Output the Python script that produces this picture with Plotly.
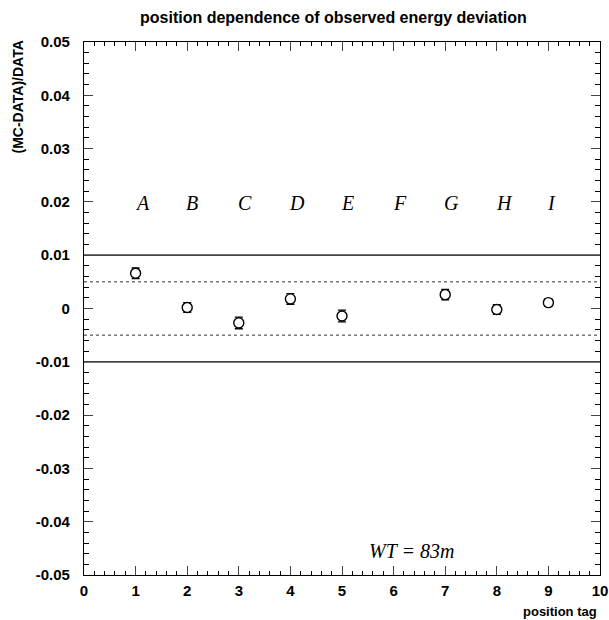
import plotly.graph_objects as go

positions = [1, 2, 3, 4, 5, 7, 8, 9]
deviation = [0.0066, 0.0002, -0.0027, 0.0018, -0.0014, 0.0026, -0.0002, 0.0011]
errors = [0.0010, 0.0009, 0.0011, 0.0010, 0.0011, 0.0010, 0.0009, 0.0007]
tag_x = [1, 2, 3, 4, 5, 6, 7, 8, 9]
tag_labels = ["A", "B", "C", "D", "E", "F", "G", "H", "I"]
x_ticks = list(range(0, 11))
x_tick_text = [str(v) for v in x_ticks]
y_ticks = [0.05, 0.04, 0.03, 0.02, 0.01, 0, -0.01, -0.02, -0.03, -0.04, -0.05]
y_tick_text = ["0.05", "0.04", "0.03", "0.02", "0.01", "0", "-0.01", "-0.02", "-0.03", "-0.04", "-0.05"]
solid_levels = [0.01, -0.01]
dashed_levels = [0.005, -0.005]

fig = go.Figure()

for lv in solid_levels:
    fig.add_trace(go.Scatter(x=[0, 10], y=[lv, lv], mode="lines",
                             line=dict(color="#444444", width=1.8), showlegend=False, hoverinfo="skip"))
for lv in dashed_levels:
    fig.add_trace(go.Scatter(x=[0, 10], y=[lv, lv], mode="lines",
                             line=dict(color="#333333", width=1, dash="3px,3px"), showlegend=False, hoverinfo="skip"))

fig.add_trace(go.Scatter(
    x=positions, y=deviation, mode="markers",
    error_y=dict(type="data", array=errors, color="black", thickness=1.3, width=4),
    marker=dict(symbol="circle", size=10, color="white", line=dict(width=1.4, color="black")),
    showlegend=False))

font_axis = dict(family="Liberation Sans, Arial, sans-serif", size=15, color="black")

fig.update_xaxes(range=[0, 10], tickvals=x_ticks, ticktext=["<b>%s</b>" % t for t in x_tick_text],
                 ticks="inside", ticklen=9, tickwidth=1, automargin=False,
                 mirror="ticks", showline=True, linecolor="black", linewidth=1.2,
                 showgrid=False, zeroline=False, tickfont=font_axis, ticklabelstandoff=2,
                 minor=dict(dtick=0.2, ticks="inside", ticklen=4, tickcolor="black", showgrid=False))
fig.update_yaxes(range=[-0.05, 0.05], tickvals=y_ticks, ticktext=["<b>%s</b>" % t for t in y_tick_text],
                 ticks="inside", automargin=False,
                 ticklen=9, tickwidth=1, mirror="ticks", showline=True, linecolor="black",
                 linewidth=1.2, showgrid=False, zeroline=False, tickfont=font_axis,
                 ticklabelstandoff=10,
                 minor=dict(dtick=0.002, ticks="inside", ticklen=5, tickcolor="black", showgrid=False))

serif = dict(family="Liberation Serif, Times New Roman, serif", size=20, color="black", style="italic")
annotations = []
for xv, lab in zip(tag_x, tag_labels):
    annotations.append(dict(x=xv, y=0.0198, xref="x", yref="y", text=lab, showarrow=False,
                            xanchor="left", yanchor="middle", xshift=-3, font=serif))
annotations.append(dict(x=6.35, y=-0.0455, xref="x", yref="y", text="WT = 83m", showarrow=False,
                        xanchor="center", yanchor="middle", font=serif))
annotations.append(dict(x=599, y=611, xref="paper", yref="paper", text="<b>position tag</b>",
                        showarrow=False, xanchor="right", yanchor="middle",
                        font=dict(family="Liberation Sans, Arial, sans-serif", size=13, color="black")))
annotations.append(dict(x=17, y=39, xref="paper", yref="paper", text="<b>(MC-DATA)/DATA</b>",
                        showarrow=False, xanchor="center", yanchor="top", textangle=-90,
                        font=dict(family="Liberation Sans, Arial, sans-serif", size=14, color="black")))
annotations.append(dict(x=333, y=17, xref="paper", yref="paper",
                        text="<b>position dependence of observed energy deviation</b>",
                        showarrow=False, xanchor="center", yanchor="middle",
                        font=dict(family="Liberation Sans, Arial, sans-serif", size=16, color="black")))

# convert pixel positions of paper annotations to paper fractions
L, R, T, B = 84, 9, 42, 45
W, H = 609, 620
pw, ph = W - L - R, H - T - B
for a in annotations:
    if a["xref"] == "paper":
        a["x"] = (a["x"] - L) / pw
        a["y"] = (H - B - a["y"]) / ph

fig.update_layout(
    width=W, height=H,
    margin=dict(l=L, r=R, t=T, b=B, autoexpand=False),
    paper_bgcolor="white", plot_bgcolor="white",
    annotations=annotations,
)

fig.write_html("out.html", config={"displayModeBar": False},
               post_script="document.body.style.margin='0px';")
